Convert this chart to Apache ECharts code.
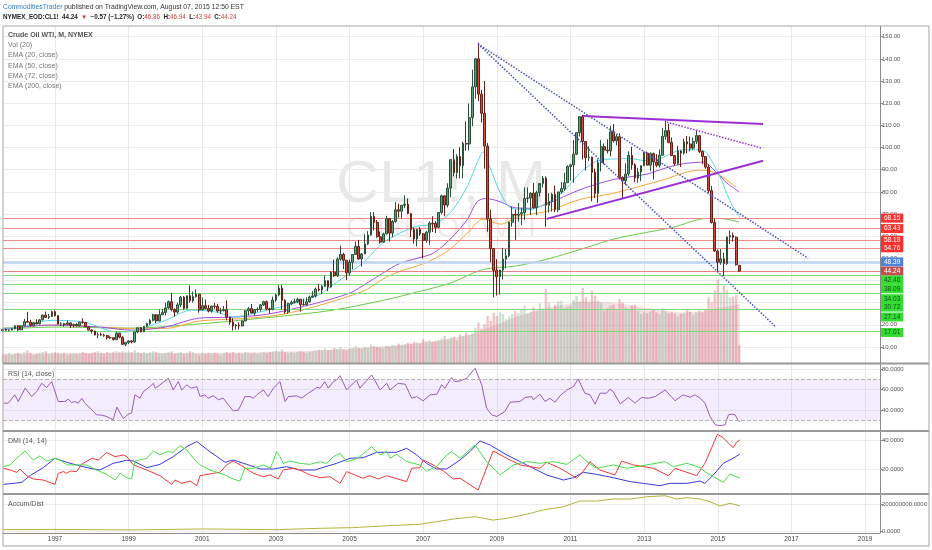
<!DOCTYPE html>
<html><head><meta charset="utf-8">
<script src="https://cdn.jsdelivr.net/npm/echarts@6/dist/echarts.min.js"></script>
<style>html,body{margin:0;padding:0;background:#fff}#c{width:932px;height:550px}</style>
</head><body><div id="c"></div><script>
// ---------- DATA ----------
// monthly candles [open, high, low, close], Aug 1995 .. Aug 2015
const ohlc1995 = [[17.3,18.2,17.0,17.84],[17.84,18.3,17.3,17.54],[17.54,17.9,17.0,17.64],[17.64,18.4,17.5,18.18],[18.18,19.8,18.0,19.55]];
const ohlc1996 = [[19.55,19.9,17.2,17.74],[17.74,19.8,17.6,19.54],[19.54,22.7,19.3,21.47],[21.47,25.9,21.0,21.20],[21.20,22.3,19.3,19.76],[19.76,21.3,19.2,20.92],[20.92,22.5,20.3,20.42],[20.42,22.5,20.2,22.25],[22.25,24.7,22.0,24.38],[24.38,26.0,23.2,23.35],[23.35,24.9,22.6,23.75],[23.75,26.5,23.5,25.92]];
const ohlc1997 = [[25.92,26.6,23.7,24.15],[24.15,24.4,20.1,20.30],[20.30,21.2,19.5,20.41],[20.41,20.9,19.2,20.21],[20.21,22.0,19.8,20.88],[20.88,21.1,18.6,19.80],[19.80,20.6,18.8,20.14],[20.14,20.7,19.2,19.61],[19.61,21.4,19.2,21.18],[21.18,23.0,20.5,21.08],[21.08,21.3,19.0,19.15],[19.15,19.3,17.5,17.64]];
const ohlc1998 = [[17.64,18.0,16.1,17.21],[17.21,17.3,15.3,15.44],[15.44,16.6,13.9,15.61],[15.61,16.5,15.0,15.39],[15.39,16.0,14.6,15.20],[15.20,15.4,13.4,14.18],[14.18,14.9,13.7,14.21],[14.21,14.5,12.9,13.34],[13.34,16.9,13.2,16.14],[16.14,16.4,13.9,14.42],[14.42,14.9,10.9,11.22],[11.22,12.3,10.35,12.05]];
const ohlc1999 = [[12.05,12.9,11.3,12.75],[12.75,13.0,11.6,12.27],[12.27,16.9,12.0,16.76],[16.76,18.8,16.2,18.66],[18.66,19.0,16.6,16.84],[16.84,19.4,16.8,19.29],[19.29,20.9,18.9,20.53],[20.53,22.5,19.9,22.10],[22.10,25.0,21.6,24.51],[24.51,24.8,20.8,21.75],[21.75,26.9,21.6,24.59],[24.59,27.2,24.3,25.60]];
const ohlc2000 = [[25.60,30.0,24.2,27.64],[27.64,31.0,27.2,30.43],[30.43,34.4,26.1,26.90],[26.90,27.4,23.7,25.74],[25.74,30.0,25.0,29.01],[29.01,33.0,28.0,32.50],[32.50,33.0,26.8,27.43],[27.43,33.2,27.0,33.12],[33.12,37.8,30.0,30.84],[30.84,35.0,30.0,32.70],[32.70,36.0,32.3,33.82],[33.82,34.0,25.5,26.80]];
const ohlc2001 = [[26.80,32.3,26.5,28.66],[28.66,31.4,27.0,27.39],[27.39,29.0,25.6,26.29],[26.29,28.6,25.5,28.46],[28.46,29.9,27.3,28.37],[28.37,29.5,25.6,26.25],[26.25,27.7,24.9,26.35],[26.35,28.5,26.1,26.81],[26.81,31.0,22.0,23.43],[23.43,23.6,20.0,21.18],[21.18,23.0,17.45,19.44],[19.44,20.4,17.8,19.84]];
const ohlc2002 = [[19.84,21.1,17.9,19.48],[19.48,21.9,19.3,21.74],[21.74,26.6,21.6,26.31],[26.31,28.0,24.2,27.29],[27.29,29.4,25.5,25.31],[25.31,27.0,24.2,26.86],[26.86,27.9,25.8,27.02],[27.02,29.4,26.0,28.98],[28.98,30.8,28.5,30.45],[30.45,30.9,26.6,27.22],[27.22,27.7,25.1,26.89],[26.89,32.7,26.6,31.20]];
const ohlc2003 = [[31.20,34.0,30.4,33.51],[33.51,38.0,32.9,36.60],[36.60,38.0,26.9,31.04],[31.04,31.5,25.0,25.80],[25.80,30.0,25.0,29.56],[29.56,31.0,29.0,30.19],[30.19,31.8,29.6,30.54],[30.54,32.3,29.8,31.57],[31.57,31.6,26.0,29.20],[29.20,31.8,28.7,29.11],[29.11,32.4,28.6,30.41],[30.41,33.2,30.0,32.52]];
const ohlc2004 = [[32.52,35.2,32.2,33.05],[33.05,36.8,32.3,36.16],[36.16,38.4,35.0,35.76],[35.76,38.0,33.8,37.38],[37.38,42.3,37.0,39.88],[39.88,40.0,35.2,37.05],[37.05,44.0,36.8,43.80],[43.80,49.4,41.6,42.12],[42.12,50.5,41.6,49.64],[49.64,55.7,48.9,51.76],[51.76,52.5,45.2,49.13],[49.13,49.2,40.2,43.45]];
const ohlc2005 = [[43.45,49.5,42.1,48.20],[48.20,52.0,45.0,51.75],[51.75,57.6,51.6,55.40],[55.40,58.3,49.3,49.72],[49.72,52.4,46.2,51.97],[51.97,60.9,51.9,56.50],[56.50,62.3,56.0,60.57],[60.57,70.8,60.2,68.94],[68.94,70.9,62.5,66.24],[66.24,67.3,59.3,59.76],[59.76,62.1,56.6,57.32],[57.32,61.6,57.0,61.04]];
const ohlc2006 = [[61.04,69.2,60.8,67.92],[67.92,68.0,57.6,61.41],[61.41,67.3,59.5,66.63],[66.63,75.4,66.0,71.88],[71.88,74.7,68.4,71.29],[71.29,74.0,68.0,73.93],[73.93,78.4,72.6,74.40],[74.40,77.0,69.9,70.26],[70.26,70.5,59.5,62.91],[62.91,64.0,56.6,58.73],[58.73,62.0,55.4,63.13],[63.13,64.2,60.2,61.05]];
const ohlc2007 = [[61.05,61.3,49.9,58.14],[58.14,62.4,57.0,61.79],[61.79,66.7,56.1,65.87],[65.87,69.0,61.9,65.71],[65.71,66.7,61.4,64.01],[64.01,70.8,63.8,70.68],[70.68,78.8,69.9,78.21],[78.21,78.3,69.0,74.04],[74.04,83.9,73.0,81.66],[81.66,94.7,77.5,94.53],[94.53,99.3,87.0,88.71],[88.71,97.0,86.0,95.98]];
const ohlc2008 = [[95.98,100.1,86.1,91.75],[91.75,102.6,86.1,101.84],[101.84,111.8,98.6,101.58],[101.58,119.9,98.7,113.46],[113.46,135.1,109.6,127.35],[127.35,140.4,122.1,140.00],[140.00,147.3,121.0,124.08],[124.08,126.0,111.3,115.46],[115.46,130.0,90.5,100.64],[100.64,102.0,62.0,67.81],[67.81,71.9,48.3,54.43],[54.43,54.6,32.4,44.60]];
const ohlc2009 = [[44.60,49.6,33.2,41.68],[41.68,44.2,33.6,44.76],[44.76,54.7,40.5,49.66],[49.66,54.2,45.4,51.12],[51.12,66.6,50.5,66.31],[66.31,73.4,64.2,69.89],[69.89,72.0,58.3,69.45],[69.45,75.0,66.6,69.96],[69.96,72.8,65.0,70.61],[70.61,82.0,67.2,77.00],[77.00,82.0,75.0,77.28],[77.28,79.8,69.5,79.36]];
const ohlc2010 = [[79.36,83.95,72.4,72.89],[72.89,80.5,69.5,79.66],[79.66,83.2,77.9,83.76],[83.76,87.1,82.0,86.15],[86.15,87.0,64.2,73.97],[73.97,79.4,70.7,75.63],[75.63,79.6,71.1,78.95],[78.95,82.9,70.8,71.92],[71.92,80.0,70.8,79.97],[79.97,84.4,79.2,81.43],[81.43,88.6,80.3,84.11],[84.11,92.0,84.0,91.38]];
const ohlc2011 = [[91.38,92.6,85.1,92.19],[92.19,103.4,84.1,96.97],[96.97,106.9,96.6,106.72],[106.72,114.0,105.0,113.93],[113.93,114.8,94.6,102.70],[102.70,102.8,89.6,95.42],[95.42,100.6,94.0,95.70],[95.70,95.9,75.7,88.81],[88.81,90.5,77.1,79.20],[79.20,94.7,74.95,93.19],[93.19,103.4,89.2,100.36],[100.36,101.8,92.5,98.83]];
const ohlc2012 = [[98.83,103.7,97.4,98.48],[98.48,109.8,96.0,107.07],[107.07,110.6,102.2,103.02],[103.02,106.0,101.0,104.87],[104.87,106.4,86.0,86.53],[86.53,87.0,77.3,84.96],[84.96,92.9,83.1,88.06],[88.06,98.3,87.2,96.47],[96.47,100.4,90.0,92.19],[92.19,92.9,84.4,86.24],[86.24,90.8,84.1,88.91],[88.91,91.9,84.8,91.82]];
const ohlc2013 = [[91.82,98.2,91.6,97.49],[97.49,98.2,92.0,92.05],[92.05,97.8,89.3,97.23],[97.23,97.7,85.6,93.46],[93.46,97.0,91.1,91.97],[91.97,99.2,91.0,96.56],[96.56,108.9,96.4,105.03],[105.03,112.2,103.5,107.65],[107.65,110.7,101.9,102.33],[102.33,104.4,96.1,96.38],[96.38,96.5,91.8,92.72],[92.72,100.8,92.3,98.42]];
const ohlc2014 = [[98.42,98.7,91.2,97.49],[97.49,104.0,96.8,102.59],[102.59,105.2,97.4,101.58],[101.58,104.9,98.3,99.74],[99.74,104.5,98.8,102.71],[102.71,107.7,101.6,105.37],[105.37,105.6,97.5,98.17],[98.17,98.7,92.5,95.96],[95.96,96.0,90.4,91.16],[91.16,92.5,79.4,80.54],[80.54,82.6,65.7,66.15],[66.15,68.0,52.9,53.27]];
const ohlc2015 = [[53.27,54.0,44.2,48.24],[48.24,54.2,47.1,49.76],[49.76,52.5,42.0,47.60],[47.60,59.9,47.0,59.63],[59.63,62.6,56.5,60.30],[60.30,61.6,57.5,59.47],[59.47,59.9,46.7,47.12],[46.86,46.94,43.94,44.24]];

// monthly volume (millions), same months
const volume = [
 1.1,1.0,1.2,1.0,1.1,
 1.2,1.1,1.3,1.5,1.2,1.0,1.1,1.2,1.3,1.4,1.1,1.2,
 1.3,1.2,1.1,1.2,1.0,1.1,1.2,1.1,1.2,1.3,1.2,1.1,
 1.2,1.3,1.4,1.2,1.1,1.3,1.2,1.3,1.4,1.3,1.4,1.3,
 1.4,1.3,1.5,1.3,1.2,1.3,1.2,1.3,1.4,1.3,1.2,1.1,
 1.2,1.3,1.4,1.1,1.2,1.3,1.1,1.2,1.4,1.3,1.1,1.0,
 1.2,1.1,1.2,1.1,1.2,1.1,1.0,1.2,1.3,1.2,1.3,1.1,
 1.2,1.1,1.3,1.2,1.1,1.2,1.1,1.2,1.3,1.2,1.3,1.4,
 1.5,1.4,1.6,1.3,1.2,1.3,1.2,1.3,1.4,1.3,1.2,1.3,
 1.4,1.5,1.6,1.5,1.7,1.5,1.6,1.8,1.7,1.9,1.6,1.5,
 1.7,1.8,2.0,1.8,1.7,1.9,1.8,2.2,2.0,1.9,1.8,1.7,
 2.0,1.9,2.1,2.0,2.3,2.1,2.2,2.4,2.3,2.5,2.4,2.3,
 2.8,2.6,2.7,2.5,2.6,2.7,2.9,3.2,2.8,3.0,3.1,2.7,
 3.4,3.2,3.6,3.3,3.5,4.2,4.8,4.1,4.6,5.6,5.0,5.9,
 5.6,6.0,5.8,5.2,5.5,5.8,6.2,5.9,6.4,6.8,5.9,6.1,
 6.6,6.2,7.1,6.5,8.8,7.2,6.4,6.9,7.3,7.4,6.5,6.7,
 6.8,7.5,8.0,7.3,8.9,7.8,7.2,8.6,8.0,7.4,7.1,6.2,
 6.5,6.8,6.9,6.3,7.6,7.2,6.6,6.4,6.8,6.9,6.2,5.8,
 6.0,5.9,6.1,6.3,6.0,5.8,6.5,6.2,5.9,6.0,5.8,5.5,
 5.8,5.9,6.3,6.1,5.7,6.0,6.2,6.0,6.4,7.8,7.2,8.6,
 9.9,8.4,9.2,8.7,7.8,7.9,8.1,2.1];

// volume 20-period MA (vertices, [year, millions])
const volMA = [[1995.6,1.1],[1998.0,1.2],[2001.0,1.2],[2003.0,1.3],[2004.5,1.55],[2005.5,1.85],[2006.5,2.2],[2007.5,2.7],[2008.3,3.4],[2008.9,4.4],[2009.6,5.6],[2010.4,6.6],[2011.3,7.3],[2012.0,7.2],[2012.6,6.9],[2013.4,6.3],[2014.0,6.0],[2014.6,6.1],[2015.1,6.6],[2015.6,7.0]];

// EMA lines (vertices, [year, price])
const ema20 = [[1995.6,18.5],[1996.0,18.8],[1996.9,22.0],[1997.8,21.2],[1998.7,16.7],[1999.1,17.2],[2000.0,22.0],[2000.7,26.6],[2001.4,25.7],[2001.85,23.5],[2002.3,24.8],[2003.2,28.4],[2004.1,33.0],[2004.55,38.0],[2005.0,43.3],[2005.47,49.6],[2005.9,56.9],[2006.37,61.4],[2006.83,64.5],[2007.27,65.4],[2007.73,70.4],[2008.2,82.6],[2008.46,93.0],[2008.63,98.0],[2008.8,91.6],[2009.1,79.4],[2009.4,72.6],[2009.9,72.0],[2010.36,75.0],[2010.8,80.0],[2011.26,88.5],[2011.72,94.0],[2012.15,94.8],[2012.6,95.0],[2013.08,94.0],[2013.43,95.0],[2014.05,99.0],[2014.5,99.0],[2014.7,97.5],[2015.06,86.8],[2015.33,76.0],[2015.6,68.6]];
const ema50 = [[1995.6,18.0],[1996.9,19.9],[1998.2,19.0],[1999.1,17.6],[2000.0,19.0],[2000.9,23.0],[2001.85,23.5],[2002.6,24.4],[2003.2,26.2],[2004.1,29.8],[2005.0,34.3],[2005.47,38.8],[2005.9,43.3],[2006.37,47.8],[2006.83,50.0],[2007.27,52.3],[2007.73,58.6],[2008.2,67.6],[2008.46,75.5],[2008.7,77.0],[2009.1,75.5],[2009.5,72.8],[2009.9,72.6],[2010.36,74.5],[2011.26,81.0],[2012.15,85.5],[2013.08,88.0],[2013.43,90.0],[2014.0,92.5],[2014.6,93.4],[2014.98,88.5],[2015.25,84.0],[2015.58,80.0]];
const ema72 = [[1995.6,18.5],[1996.9,19.9],[1998.2,19.0],[1999.1,18.4],[2000.0,18.4],[2000.9,21.7],[2001.85,22.6],[2002.6,23.5],[2003.2,24.8],[2004.1,28.4],[2005.0,33.0],[2005.47,36.0],[2005.9,40.6],[2006.37,44.2],[2006.83,46.5],[2007.27,49.6],[2007.73,54.1],[2008.2,61.4],[2008.63,67.7],[2009.1,65.4],[2009.6,69.0],[2010.36,71.2],[2011.26,76.6],[2012.15,79.3],[2013.43,85.0],[2014.5,89.8],[2014.87,89.0],[2015.25,85.3],[2015.5,82.0]];
const ema200 = [[1995.6,18.0],[1997.0,19.0],[1999.0,18.5],[2001.0,20.5],[2002.3,22.5],[2003.2,24.0],[2004.5,26.5],[2005.9,31.0],[2007.0,35.5],[2007.73,38.8],[2008.63,45.0],[2009.5,46.5],[2010.36,49.6],[2011.26,54.0],[2012.15,58.6],[2013.0,61.5],[2013.78,64.0],[2014.7,68.0],[2015.06,68.0],[2015.58,66.4]];

// drawn trend lines ([year, price] end points)
const trendBlueUpper = [[2008.49,146.7],[2017.45,50.1]];
const trendBlueLower = [[2008.49,146.7],[2016.58,19.0]];
const trendPurpleTop = [[2011.34,114.2],[2016.23,110.6]];
const trendPurpleDotted = [[2013.62,111.4],[2016.2,99.7]];
const trendPurpleRising = [[2010.35,67.8],[2016.23,94.0]];

// horizontal price levels
const resistLevels = [68.15, 63.43, 58.18, 54.76];
const emaLevel = 48.39;
const lastPrice = 44.24;
const supportLevels = [42.46, 38.09, 34.03, 30.72, 27.14, 17.01];
const supportLabelShift = [5, 4, 5, 6, 8, 1];

// RSI (14, close)
const rsi = [[1995.60,46.7],[1995.73,46.7],[1995.91,54.8],[1996.00,48.3],[1996.19,61.3],[1996.37,53.1],[1996.50,58],[1996.64,66.1],[1996.77,61.9],[1996.91,67.7],[1997.09,48.3],[1997.27,48.3],[1997.36,50.6],[1997.45,47.3],[1997.54,48.3],[1997.63,46.7],[1997.73,51.5],[1997.81,46.7],[1998.00,40.2],[1998.13,35.3],[1998.27,35],[1998.40,33.7],[1998.58,30.5],[1998.68,42.8],[1998.77,37],[1998.86,31.5],[1998.99,36],[1999.08,37],[1999.17,54.8],[1999.31,51.5],[1999.40,58],[1999.58,62.8],[1999.67,66.1],[1999.72,61.3],[1999.85,64.5],[2000.08,71],[2000.21,59.6],[2000.35,67.7],[2000.44,59.6],[2000.58,64.5],[2000.71,61.3],[2000.85,62.8],[2000.94,53.1],[2001.07,54.8],[2001.16,51.5],[2001.30,54],[2001.44,50],[2001.57,51.5],[2001.71,45],[2001.84,39.2],[2001.98,39.9],[2002.16,53.1],[2002.30,53.1],[2002.39,51.5],[2002.48,54.8],[2002.66,59.6],[2002.79,53.1],[2002.93,61.3],[2003.11,67.7],[2003.25,48.3],[2003.34,53.1],[2003.56,53.8],[2003.70,51.5],[2003.88,56.4],[2004.02,59.6],[2004.11,62.2],[2004.20,61.3],[2004.33,67.7],[2004.42,61.3],[2004.56,67.7],[2004.65,69.3],[2004.74,73.5],[2004.92,59.6],[2005.19,69.3],[2005.28,61.3],[2005.60,74.2],[2005.83,59.6],[2006.01,66.1],[2006.10,59.6],[2006.32,66.1],[2006.51,65.1],[2006.69,51.5],[2006.82,53.1],[2007.00,49],[2007.19,54.8],[2007.37,55.4],[2007.50,64.5],[2007.59,61.3],[2007.77,71.6],[2007.86,67.7],[2008.00,68.4],[2008.18,71],[2008.41,80.7],[2008.59,64.5],[2008.72,41.8],[2008.86,35.3],[2009.00,33.7],[2009.22,38.6],[2009.36,47.6],[2009.63,48.3],[2009.77,52.2],[2009.95,53.1],[2009.99,50],[2010.17,55.4],[2010.31,48.3],[2010.44,51.5],[2010.58,47.6],[2010.72,54],[2010.90,59.6],[2011.08,62.8],[2011.21,70.3],[2011.39,56.4],[2011.53,54.8],[2011.67,45.7],[2011.80,56.4],[2011.98,56.4],[2012.07,60.3],[2012.16,58],[2012.35,46],[2012.57,52.2],[2012.75,46.7],[2012.93,52.2],[2013.11,51.5],[2013.30,53.1],[2013.57,59.6],[2013.84,49],[2013.93,51.5],[2014.06,54.8],[2014.25,52.5],[2014.38,54.8],[2014.52,51.5],[2014.65,46.7],[2014.79,33.7],[2014.93,25.6],[2015.06,24.7],[2015.20,25.6],[2015.29,35.3],[2015.38,36],[2015.47,35.3],[2015.56,29.5],[2015.60,28.8]];
const rsiBand = [30, 70];

// DMI (14, 14)
const dmiAdx = [[1995.60,9.4],[1995.87,10.1],[1996.10,10.8],[1996.32,15.4],[1996.68,20.9],[1997.00,27.4],[1997.32,24.6],[1997.68,22.1],[1997.95,20.5],[1998.22,19.3],[1998.58,23.9],[1998.95,26.0],[1999.13,25.5],[1999.49,20.9],[1999.85,23.2],[2000.21,28.5],[2000.58,35.4],[2000.85,38.9],[2001.21,31.9],[2001.62,24.6],[2001.84,26.2],[2002.21,23.2],[2002.57,20.0],[2002.93,20.0],[2003.29,21.6],[2003.65,19.3],[2004.06,19.3],[2004.20,20.5],[2004.65,23.9],[2005.01,27.4],[2005.37,27.8],[2005.74,31.5],[2006.28,31.5],[2006.55,34.3],[2006.82,29.7],[2007.09,23.9],[2007.36,20.0],[2007.64,20.0],[2008.00,26.2],[2008.27,32.0],[2008.54,39.3],[2008.81,36.6],[2009.27,29.7],[2009.81,22.8],[2010.35,15.9],[2010.81,12.4],[2011.08,14.0],[2011.35,17.7],[2011.71,16.3],[2012.16,14.0],[2012.62,11.3],[2012.98,10.1],[2013.43,8.5],[2013.70,10.1],[2014.16,10.1],[2014.52,11.7],[2014.65,10.1],[2014.88,15.9],[2015.15,23.9],[2015.42,27.4],[2015.60,30.3]];
const dmiMinus = [[1995.60,20.5],[1995.78,19.3],[1995.96,17.7],[1996.05,20.0],[1996.23,15.4],[1996.41,13.1],[1996.68,12.4],[1997.00,9.4],[1997.09,17.0],[1997.23,18.2],[1997.32,17.0],[1997.41,18.6],[1997.59,18.2],[1997.72,23.2],[1998.00,27.4],[1998.18,26.2],[1998.40,31.3],[1998.63,28.5],[1998.86,29.7],[1998.95,28.5],[1999.13,22.8],[1999.49,19.3],[1999.85,15.4],[2000.17,9.4],[2000.26,12.4],[2000.44,10.1],[2000.67,11.7],[2000.85,8.5],[2000.94,15.4],[2001.30,17.0],[2001.48,17.7],[2001.66,22.8],[2001.84,25.5],[2002.11,21.6],[2002.39,17.0],[2002.66,14.7],[2002.84,15.9],[2003.06,13.1],[2003.20,19.3],[2003.47,20.5],[2003.65,19.3],[2003.92,15.9],[2004.20,14.0],[2004.47,14.7],[2004.74,10.1],[2004.92,18.2],[2005.19,15.4],[2005.37,13.6],[2005.55,15.4],[2005.78,13.1],[2006.01,15.4],[2006.55,11.3],[2006.69,20.5],[2006.91,20.9],[2007.00,26.2],[2007.27,22.8],[2007.55,18.6],[2007.82,13.1],[2008.00,13.6],[2008.49,5.5],[2008.90,32.4],[2009.27,27.4],[2009.63,22.8],[2010.17,20.5],[2010.35,24.6],[2010.72,20.5],[2011.17,13.6],[2011.35,18.6],[2011.53,25.0],[2011.80,19.3],[2012.21,15.9],[2012.39,25.5],[2012.71,22.8],[2013.25,20.5],[2013.66,15.4],[2013.84,20.5],[2014.43,15.4],[2014.52,19.0],[2014.65,23.9],[2014.79,32.0],[2014.99,43.9],[2015.15,41.6],[2015.29,37.7],[2015.42,34.7],[2015.51,38.4],[2015.60,40.0]];
const dmiPlus = [[1995.60,21.6],[1995.78,22.8],[1995.91,26.2],[1996.19,32.4],[1996.32,28.5],[1996.41,26.2],[1996.59,29.0],[1996.77,25.5],[1997.00,27.4],[1997.18,25.5],[1997.32,22.8],[1997.68,22.8],[1997.86,22.8],[1998.13,19.3],[1998.40,16.3],[1998.63,12.4],[1998.77,17.0],[1998.95,14.0],[1999.08,13.1],[1999.17,25.5],[1999.31,26.2],[1999.49,27.4],[1999.67,32.4],[1999.85,29.7],[2000.03,32.0],[2000.21,31.5],[2000.40,36.1],[2000.58,33.1],[2000.76,27.4],[2000.94,22.8],[2001.21,19.3],[2001.48,17.0],[2001.66,15.4],[2001.84,13.1],[2002.02,11.7],[2002.16,20.5],[2002.39,20.5],[2002.66,22.8],[2002.84,20.5],[2002.93,25.5],[2003.02,32.0],[2003.11,28.5],[2003.20,23.9],[2003.38,25.5],[2003.65,23.9],[2003.92,23.2],[2004.20,25.0],[2004.38,23.9],[2004.56,28.5],[2004.74,30.8],[2004.92,25.1],[2005.10,26.2],[2005.28,28.5],[2005.60,35.4],[2005.83,29.7],[2006.01,32.0],[2006.10,27.4],[2006.28,30.1],[2006.55,25.1],[2006.91,22.8],[2007.09,18.6],[2007.36,21.6],[2007.64,29.7],[2007.77,32.0],[2008.00,27.4],[2008.41,36.6],[2008.72,25.1],[2009.09,15.9],[2009.45,22.8],[2009.81,25.1],[2010.17,23.9],[2010.53,25.1],[2010.90,23.2],[2011.26,29.7],[2011.44,25.1],[2011.71,20.5],[2012.16,22.8],[2012.53,20.5],[2013.07,22.8],[2013.57,25.1],[2013.79,21.6],[2014.16,23.9],[2014.52,21.0],[2014.65,18.2],[2014.88,14.7],[2015.15,10.8],[2015.33,16.6],[2015.60,13.6]];

// Accumulation / Distribution
const accDist = [[1995.60,1.0e7],[1997.0,1.2e7],[1999.0,0.8e7],[2001.0,1.5e7],[2003.0,1.0e7],[2004.2,2.0e7],[2005.10,2.5e7],[2006.01,3.9e7],[2006.91,5.0e7],[2007.36,6.9e7],[2007.82,8.9e7],[2008.41,1.06e8],[2008.90,8.1e7],[2009.27,9.4e7],[2009.81,1.24e8],[2010.26,1.56e8],[2010.81,1.8e8],[2011.26,2.22e8],[2011.71,2.22e8],[2012.16,2.37e8],[2012.62,2.37e8],[2013.07,2.54e8],[2013.57,2.61e8],[2013.88,2.37e8],[2014.16,2.47e8],[2014.52,2.37e8],[2014.79,2.17e8],[2015.06,1.85e8],[2015.33,2.05e8],[2015.60,1.87e8]];

// axis tick labels
const yearTicks = [1997,1999,2001,2003,2005,2007,2009,2011,2013,2015,2017,2019];
const priceTicks = [10,20,30,40,50,60,70,80,90,100,110,120,130,140,150];
const rsiTicks = [40,60,80];
const dmiTicks = [20,40];
const adTicks = [0,200000000];

// ---------- BUILD ----------
const ohlc = [].concat(ohlc1995,ohlc1996,ohlc1997,ohlc1998,ohlc1999,ohlc2000,ohlc2001,ohlc2002,ohlc2003,ohlc2004,ohlc2005,ohlc2006,ohlc2007,ohlc2008,ohlc2009,ohlc2010,ohlc2011,ohlc2012,ohlc2013,ohlc2014,ohlc2015);
const months = ohlc.map((d, i) => 1995 + (7 + i) / 12);
const candleData = ohlc.map((d, i) => [months[i], d[0], d[3], d[2], d[1]]);
const volData = volume.map((v, i) => ({
  value: [months[i], v],
  itemStyle: { color: ohlc[i][3] >= ohlc[i][0] ? 'rgba(120,170,130,0.35)' : 'rgba(214,110,120,0.40)' }
}));

const FONT = 'Liberation Sans, Arial, sans-serif';
const XMIN = 1995.588, XMAX = 2019.406;
const grids = [
  { left: 3, right: 52, top: 26, height: 337 },
  { left: 3, right: 52, top: 364, height: 66 },
  { left: 3, right: 52, top: 432, height: 61 },
  { left: 3, right: 52, top: 495, height: 38 }
];
function xAx(i, showLabel) {
  return {
    type: 'value', gridIndex: i, min: XMIN, max: XMAX,
    axisLine: { show: false },
    axisTick: { show: false, customValues: yearTicks },
    axisLabel: { show: showLabel, customValues: yearTicks, formatter: v => String(v), fontSize: 6.5, color: '#444', margin: 3, fontFamily: FONT },
    splitLine: { show: true, lineStyle: { color: '#e9e9e9', width: 1 } }
  };
}
function yAx(i, min, max, ticks, fmt) {
  return {
    type: 'value', gridIndex: i, position: 'right', min: min, max: max,
    axisLine: { show: false },
    axisTick: { show: true, customValues: ticks, length: 3, lineStyle: { color: '#888' } },
    axisLabel: { customValues: ticks, formatter: fmt, fontSize: 6, color: '#555', margin: 2, fontFamily: FONT },
    splitLine: { show: true, lineStyle: { color: '#ececec' } }
  };
}

const levelMarks = [];
resistLevels.forEach(v => levelMarks.push({ yAxis: v, lineStyle: { color: '#ef8a8a', width: 1, type: 'solid' },
  label: { backgroundColor: '#ff3030', color: '#fff' } }));
levelMarks.push({ yAxis: emaLevel, lineStyle: { color: '#bcd2f0', width: 2.5, type: 'solid' },
  label: { backgroundColor: '#4f84d8', color: '#fff' } });
levelMarks.push({ yAxis: lastPrice, lineStyle: { color: '#e88080', width: 1, type: 'solid' },
  label: { backgroundColor: '#c0504d', color: '#fff' } });
supportLevels.forEach((v, i) => levelMarks.push({ yAxis: v,
  lineStyle: { color: v === 30.72 ? 'rgba(0,0,0,0)' : '#7fdc7f', width: 1, type: 'solid' },
  label: { backgroundColor: '#33dd33', color: '#1d4d1d', offset: [0, supportLabelShift[i]] } }));

function trend(data, color, width, type) {
  return { type: 'line', xAxisIndex: 0, yAxisIndex: 0, data: data, symbol: 'none', silent: true, z: 6,
    lineStyle: { color: color, width: width, type: type }, clip: false };
}
function emaLine(data, color) {
  return { type: 'line', xAxisIndex: 0, yAxisIndex: 0, data: data, symbol: 'none', smooth: 0.3, z: 4,
    lineStyle: { color: color, width: 1 } };
}
function pane(data, xi, color) {
  return { type: 'line', xAxisIndex: xi, yAxisIndex: xi + 1, data: data, symbol: 'none', z: 4,
    lineStyle: { color: color, width: 1 } };
}

const option = {
  animation: false,
  backgroundColor: '#fff',
  textStyle: { fontFamily: FONT },
  grid: grids,
  xAxis: [xAx(0, false), xAx(1, false), xAx(2, false), xAx(3, true)],
  yAxis: [
    yAx(0, 2.78, 154.83, priceTicks, v => v.toFixed(2)),
    { type: 'value', gridIndex: 0, min: 0, max: 40, show: false, splitLine: { show: false } },
    yAx(1, 20.5, 84.9, rsiTicks, v => v.toFixed(4)),
    yAx(2, 3.45, 45.5, dmiTicks, v => v.toFixed(4)),
    yAx(3, -14800000, 266700000, adTicks, v => v.toFixed(4))
  ],
  series: [
    { type: 'line', xAxisIndex: 0, yAxisIndex: 1, data: volMA, symbol: 'none', z: 1,
      lineStyle: { width: 0 }, areaStyle: { color: 'rgba(205,120,135,0.35)' } },
    { type: 'bar', xAxisIndex: 0, yAxisIndex: 1, data: volData, barWidth: 2.4, z: 1 },
    { type: 'line', xAxisIndex: 0, yAxisIndex: 0, data: [], clip: false, z: 3,
      markLine: { silent: true, symbol: ['none', 'none'], data: levelMarks,
        label: { show: true, position: 'end', distance: 1, fontSize: 6.5, padding: [1, 3, 1, 3],
          formatter: p => p.value.toFixed(2), fontFamily: FONT } } },
    emaLine(ema200, '#66cc44'),
    emaLine(ema72, '#f5a53a'),
    emaLine(ema50, '#a04de0'),
    emaLine(ema20, '#55d6e6'),
    { type: 'candlestick', xAxisIndex: 0, yAxisIndex: 0, data: candleData, barWidth: 2.2, z: 5,
      encode: { x: 0, y: [1, 2, 3, 4] },
      itemStyle: { color: '#5f9f77', color0: '#cf4e3e', borderColor: '#2a5239', borderColor0: '#6a2017', borderWidth: 1 } },
    trend(trendBlueUpper, '#4453c4', 1.5, 'dotted'),
    trend(trendBlueLower, '#4453c4', 1.5, 'dotted'),
    trend(trendPurpleTop, '#9a2fd6', 2, 'solid'),
    trend(trendPurpleDotted, '#9a2fd6', 1.5, 'dotted'),
    trend(trendPurpleRising, '#9a2fd6', 2, 'solid'),
    Object.assign(pane(rsi, 1, '#9a5cb8'), {
      markArea: { silent: true, itemStyle: { color: 'rgba(186,140,245,0.16)' }, data: [[{ yAxis: rsiBand[0] }, { yAxis: rsiBand[1] }]] },
      markLine: { silent: true, symbol: ['none', 'none'], label: { show: false },
        lineStyle: { color: '#b5b5b5', type: 'dashed', width: 1 }, data: [{ yAxis: rsiBand[0] }, { yAxis: rsiBand[1] }] }
    }),
    pane(dmiAdx, 2, '#3a3ae0'),
    pane(dmiMinus, 2, '#ee3a3a'),
    pane(dmiPlus, 2, '#49dd49'),
    pane(accDist, 3, '#b3b33c')
  ],
  graphic: [
    { type: 'text', x: 441, y: 185, z: -1, silent: true, style: { text: 'CL1!, M', font: '60px ' + FONT, fill: 'rgba(0,0,0,0.09)', align: 'center', verticalAlign: 'middle' } },
    { type: 'text', x: 441, y: 229, z: -1, silent: true, style: { text: 'Crude Oil WTI', font: '30px ' + FONT, fill: 'rgba(0,0,0,0.08)', align: 'center', verticalAlign: 'middle' } },
    { type: 'text', x: 3, y: 7, style: { text: '{a|CommoditiesTrader}{b| published on TradingView.com, August 07, 2015 12:50 EST}',
      verticalAlign: 'middle', rich: { a: { fill: '#2c7cc8', font: '6.8px ' + FONT }, b: { fill: '#333', font: '6.8px ' + FONT } } } },
    { type: 'text', x: 3, y: 17, style: { text: '{k|NYMEX_EOD:CL1!} {k|44.24} {r|▼} {k|−0.57 (−1.27%)} {k|O:}{r|46.86} {k|H:}{r|46.94} {k|L:}{r|43.94} {k|C:}{r|44.24}',
      verticalAlign: 'middle', rich: { k: { fill: '#222', font: 'bold 6.3px ' + FONT }, r: { fill: '#d23a3a', font: '6.3px ' + FONT } } } },
    { type: 'text', x: 8, y: 35.5, z: 60, style: { text: 'Crude Oil WTI, M, NYMEX', font: 'bold 7px ' + FONT, fill: '#555', verticalAlign: 'middle' } },
    { type: 'text', x: 8, y: 45.5, z: 60, style: { text: 'Vol (20)', font: '7px ' + FONT, fill: '#777', verticalAlign: 'middle' } },
    { type: 'text', x: 8, y: 55.5, z: 60, style: { text: 'EMA (20, close)', font: '7px ' + FONT, fill: '#777', verticalAlign: 'middle' } },
    { type: 'text', x: 8, y: 65.8, z: 60, style: { text: 'EMA (50, close)', font: '7px ' + FONT, fill: '#777', verticalAlign: 'middle' } },
    { type: 'text', x: 8, y: 76, z: 60, style: { text: 'EMA (72, close)', font: '7px ' + FONT, fill: '#777', verticalAlign: 'middle' } },
    { type: 'text', x: 8, y: 86.2, z: 60, style: { text: 'EMA (200, close)', font: '7px ' + FONT, fill: '#777', verticalAlign: 'middle' } },
    { type: 'text', x: 8, y: 374, z: 60, style: { text: 'RSI (14, close)', font: '7px ' + FONT, fill: '#555', verticalAlign: 'middle' } },
    { type: 'text', x: 8, y: 441, z: 60, style: { text: 'DMI (14, 14)', font: '7px ' + FONT, fill: '#555', verticalAlign: 'middle' } },
    { type: 'text', x: 8, y: 504, z: 60, style: { text: 'Accum/Dist', font: '7px ' + FONT, fill: '#555', verticalAlign: 'middle' } },
    { type: 'rect', z: 50, silent: true, shape: { x: 3, y: 26, width: 926, height: 520 }, style: { fill: 'none', stroke: '#a5a5a5', lineWidth: 1 } },
    { type: 'line', z: 50, silent: true, shape: { x1: 880.5, y1: 26, x2: 880.5, y2: 533 }, style: { stroke: '#8a8a8a', lineWidth: 1 } },
    { type: 'line', z: 50, silent: true, shape: { x1: 3, y1: 533.5, x2: 880.5, y2: 533.5 }, style: { stroke: '#8a8a8a', lineWidth: 1 } },
    { type: 'line', z: 50, silent: true, shape: { x1: 3, y1: 363.5, x2: 929, y2: 363.5 }, style: { stroke: '#9a9a9a', lineWidth: 2 } },
    { type: 'line', z: 50, silent: true, shape: { x1: 3, y1: 431, x2: 929, y2: 431 }, style: { stroke: '#9a9a9a', lineWidth: 2 } },
    { type: 'line', z: 50, silent: true, shape: { x1: 3, y1: 494, x2: 929, y2: 494 }, style: { stroke: '#9a9a9a', lineWidth: 2 } }
  ]
};
const chart = echarts.init(document.getElementById('c'), null, { renderer: 'canvas' });
chart.setOption(option);
</script></body></html>
